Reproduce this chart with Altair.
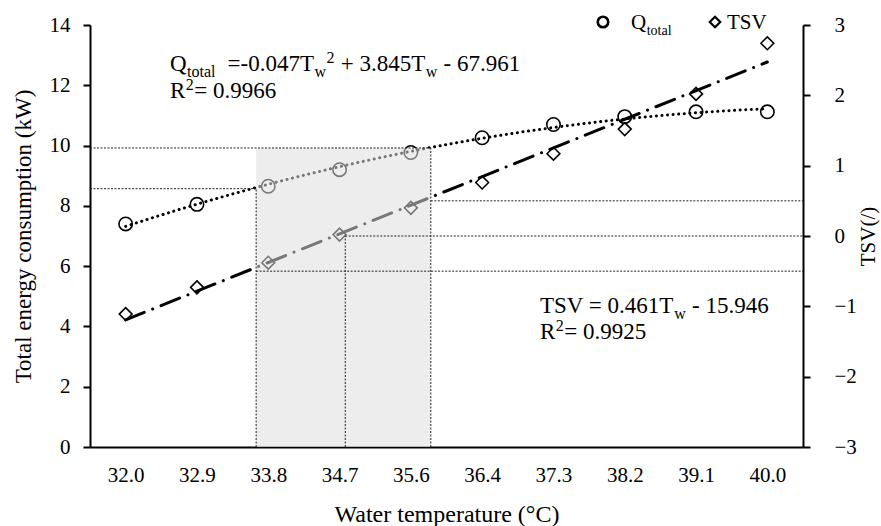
import altair as alt
import pandas as pd

# ---- data ----
temps = ["32.0", "32.9", "33.8", "34.7", "35.6", "36.4", "37.3", "38.2", "39.1", "40.0"]
q_total = [7.40, 8.05, 8.65, 9.20, 9.77, 10.26, 10.70, 10.96, 11.12, 11.12]
tsv = [-1.11, -0.73, -0.38, 0.02, 0.40, 0.76, 1.17, 1.52, 2.02, 2.74]

# comfort-zone guide values (x in category-index units)
zone_x = [1.83, 3.08, 4.28]     # where the TSV trend crosses -0.5, 0, +0.5
zone_q = [8.57, 9.92]           # Q_total at the zone edges
zone_tsv = [-0.5, 0.0, 0.5]

q_ticks = [0, 2, 4, 6, 8, 10, 12, 14]
tsv_ticks = [-3, -2, -1, 0, 1, 2, 3]

FONT = "Liberation Serif"
X_MIN, X_MAX = -0.5, len(temps) - 0.5
OX, OY = 90, 25  # plot origin in page pixels

df = pd.DataFrame({"idx": list(range(len(temps))), "temp": temps, "q": q_total, "tsv": tsv})

label_expr = "[" + ",".join("'%s'" % t for t in temps) + "][datum.value]"
x_scale = alt.Scale(domain=[X_MIN, X_MAX], nice=False, zero=False)
x_axis = alt.Axis(values=list(range(len(temps))), labelExpr=label_expr,
                  title="Water temperature (°C)", tickSize=0, labelPadding=17,
                  labelFontSize=21, titleFontSize=24, titlePadding=17)
q_scale = alt.Scale(domain=[0, 14], nice=False, zero=False)
t_scale = alt.Scale(domain=[-3, 3], nice=False, zero=False)
q_axis = alt.Axis(orient="left", values=q_ticks, tickSize=7, labelPadding=13,
                  labelFontSize=21, title="Total energy consumption (kW)",
                  titleFontSize=23, titlePadding=14)
t_axis = alt.Axis(orient="right", values=tsv_ticks, tickSize=7, labelPadding=24,
                  labelFontSize=21, title="TSV(/)", titleAngle=270,
                  titleFontSize=21, titlePadding=22)

X = lambda f: alt.X(f, scale=x_scale, axis=x_axis)

base = alt.Chart(df)

q_trend = base.transform_regression("idx", "q", method="poly", order=2).mark_line(
    color="black", strokeWidth=3, strokeDash=[0.1, 5.5], strokeCap="round"
).encode(x=X("idx:Q"), y=alt.Y("q:Q", scale=q_scale, axis=q_axis))
q_pts = base.mark_point(shape="circle", size=180, filled=False, color="black",
                        strokeWidth=1.6, opacity=1).encode(
    x=X("idx:Q"), y=alt.Y("q:Q", scale=q_scale, axis=q_axis))
layer_q = alt.layer(q_trend, q_pts)

t_trend = base.transform_regression("idx", "tsv").mark_line(
    color="black", strokeWidth=3, strokeDash=[20, 9, 0.1, 9], strokeCap="round"
).encode(x=X("idx:Q"), y=alt.Y("tsv:Q", scale=t_scale, axis=t_axis))
t_pts = base.mark_point(shape="diamond", size=165, filled=False, color="black",
                        strokeWidth=1.6, opacity=1).encode(
    x=X("idx:Q"), y=alt.Y("tsv:Q", scale=t_scale, axis=t_axis))
layer_t = alt.layer(t_trend, t_pts)

# shaded comfort zone + guides on the Q scale
rect_df = pd.DataFrame({"x": [zone_x[0]], "x2": [zone_x[2]], "y": [0], "y2": [zone_q[1]]})
shade = alt.Chart(rect_df).mark_rect(fill="#dedede", opacity=0.54).encode(
    x=X("x:Q"), x2="x2:Q",
    y=alt.Y("y:Q", scale=q_scale, axis=None), y2="y2:Q")
rq_df = pd.DataFrame({
    "x": [X_MIN, X_MIN, zone_x[0], zone_x[2]],
    "x2": [zone_x[2], zone_x[0], zone_x[0], zone_x[2]],
    "y": [zone_q[1], zone_q[0], 0, 0],
    "y2": [zone_q[1], zone_q[0], zone_q[0], zone_q[1]],
})
rules_q = alt.Chart(rq_df).mark_rule(color="#222", strokeWidth=1, strokeDash=[2, 1.5]).encode(
    x=X("x:Q"), x2="x2:Q",
    y=alt.Y("y:Q", scale=q_scale, axis=None), y2="y2:Q")
layer_zone = alt.layer(shade, rules_q)

rt_df = pd.DataFrame({
    "x": [zone_x[2], zone_x[1], zone_x[0], zone_x[1]],
    "x2": [X_MAX, X_MAX, X_MAX, zone_x[1]],
    "y": [zone_tsv[2], zone_tsv[1], zone_tsv[0], -3],
    "y2": [zone_tsv[2], zone_tsv[1], zone_tsv[0], zone_tsv[1]],
})
rules_t = alt.Chart(rt_df).mark_rule(color="#222", strokeWidth=1, strokeDash=[2, 1.5]).encode(
    x=X("x:Q"), x2="x2:Q",
    y=alt.Y("y:Q", scale=t_scale, axis=None), y2="y2:Q")

# ---- annotations (equations, legend) built as rich-text runs ----
one = pd.DataFrame({"a": [0]})
# Times / Liberation Serif advance widths (per 1000 em)
W = {" ": 250, "-": 333, "+": 564, "=": 564, ".": 250, "Q": 722, "T": 611, "S": 556,
     "V": 722, "R": 667, "t": 278, "o": 500, "a": 444, "l": 278, "w": 722}


def width(s, fs):
    return sum(W.get(c, 500) for c in s) * fs / 1000.0


def txt(s, px, py, fs):
    return alt.Chart(one).mark_text(text=s, font=FONT, fontSize=fs, align="left",
                                    baseline="alphabetic", color="black").encode(
        x=alt.value(px - OX), y=alt.value(py - OY))


def run(parts, px, py, F, S):
    """parts: list of (text, kind) with kind 'n' normal, 'b' subscript, 'p' superscript"""
    out = []
    x = px
    for s, kind in parts:
        fs = F if kind == "n" else S
        dy = {"n": 0, "b": 0.28 * F, "p": -0.36 * F}[kind]
        lead = len(s) - len(s.lstrip(" "))
        x += width(" " * lead, fs)      # SVG drops leading blanks: advance manually
        s = s.lstrip(" ")
        out.append(txt(s, x, py + dy, fs))
        x += width(s, fs) + 0.5
    return out


F, S = 23, 16
texts = []
texts += run([("Q", "n"), ("total", "b"), ("  =-0.047T", "n"), ("w", "b"), ("2", "p"),
              (" + 3.845T", "n"), ("w", "b"), (" - 67.961", "n")], 170, 71, F, S)
texts += run([("R", "n"), ("2", "p"), ("= 0.9966", "n")], 170, 98, F, S)
texts += run([("TSV = 0.461T", "n"), ("w", "b"), (" - 15.946", "n")], 540, 313, F, S)
texts += run([("R", "n"), ("2", "p"), ("= 0.9925", "n")], 540, 339, F, S)
texts += run([("Q", "n"), ("total", "b")], 631, 29, 21, 14)
texts += run([("TSV", "n")], 727, 29, 21, 14)

leg_c = alt.Chart(one).mark_point(shape="circle", size=110, filled=False, color="black",
                                  strokeWidth=2.6, opacity=1).encode(
    x=alt.value(603 - OX), y=alt.value(22 - OY))
leg_d = alt.Chart(one).mark_point(shape="diamond", size=110, filled=False, color="black",
                                  strokeWidth=2.2, opacity=1).encode(
    x=alt.value(715 - OX), y=alt.value(22 - OY))

chart = alt.layer(layer_q, layer_t, layer_zone, rules_t, *texts, leg_c, leg_d).resolve_scale(
    y="independent"
).properties(
    width=713, height=422,
    autosize=alt.AutoSizeParams(type="none"),
    padding={"left": OX, "top": OY, "right": 881 - OX - 713, "bottom": 526 - OY - 422},
).configure_axis(
    grid=False, labelFont=FONT, titleFont=FONT, labelColor="black", titleColor="black",
    domainColor="black", tickColor="black", domainWidth=2, tickWidth=2,
    titleFontWeight="normal",
).configure_view(stroke=None)

chart.save("out.html", embed_options={"renderer": "svg", "actions": False})
